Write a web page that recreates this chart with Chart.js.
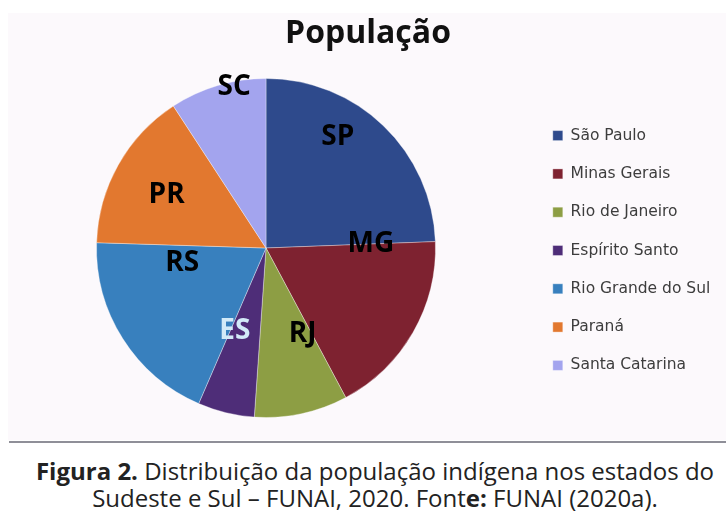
<!DOCTYPE html>
<html>
<head>
<meta charset="utf-8">
<script src="https://cdn.jsdelivr.net/npm/chart.js@4"></script>
<style>
  body { margin: 0; background: #ffffff; width: 726px; height: 511px; overflow: hidden; position: relative; font-family: "Open Sans", sans-serif; }
  #panel { position: absolute; left: 8px; top: 13px; width: 718px; height: 427px; background: #fcf9fc; }
  #wrap { position: absolute; left: -1px; top: 13px; width: 727px; height: 427px; }
  #rule { position: absolute; left: 9px; top: 441px; width: 717px; height: 2px; background: #8f8f98; }
  #caption { position: absolute; left: 0; top: 457px; width: 750px; text-align: center; font-size: 24px; line-height: 27px; color: #222; white-space: nowrap; }
</style>
</head>
<body>
<div id="panel"></div>
<div id="wrap"><canvas id="popChart"></canvas></div>
<div id="rule"></div>
<div id="caption"><b>Figura 2.</b> Distribuição da população indígena nos estados do<br>Sudeste e Sul – FUNAI, 2020. Font<b>e:</b> FUNAI (2020a).</div>
<script>
// população indígena (%) por estado
const states = ["São Paulo", "Minas Gerais", "Rio de Janeiro", "Espírito Santo", "Rio Grande do Sul", "Paraná", "Santa Catarina"];
const abbrevs = ["SP", "MG", "RJ", "ES", "RS", "PR", "SC"];
const shares = [24.4, 17.8, 8.9, 5.4, 19.0, 15.3, 9.2];

const sliceColors = ["#2e4a8c", "#7e2230", "#8d9e44", "#4e2d78", "#3880be", "#e2782f", "#a3a4ee"];
const abbrevColors = ["#000", "#000", "#000", "#d2eaf8", "#000", "#000", "#000"];
// label placement: angle shift from slice middle (deg) and fraction of radius
const labelShift = [-11.5, -33, -11.5, 7.4, 23.5, -0.4, 5.5];
const labelRadius = [0.79, 0.62, 0.54, 0.51, 0.5, 0.67, 0.98];

// fixed legend box, wider so the pie sits left, then nudged into place
const legendBox = {
  id: 'legendBox',
  beforeInit(chart) {
    const fit = chart.legend.fit;
    chart.legend.fit = function () {
      fit.bind(chart.legend)();
      this.width = 204;
    };
  },
  afterLayout(chart) {
    chart.legend.left += 8;
    chart.legend.right += 8;
    chart.legend.top += 35;
    chart.legend.bottom += 35;
  }
};

const sliceLabels = {
  id: 'sliceLabels',
  afterDatasetsDraw(chart) {
    const ctx = chart.ctx;
    const meta = chart.getDatasetMeta(0);
    ctx.save();
    ctx.font = "bold 28px 'Open Sans'";
    ctx.textAlign = 'center';
    ctx.textBaseline = 'middle';
    meta.data.forEach((arc, i) => {
      const p = arc.getProps(['x', 'y', 'startAngle', 'endAngle', 'outerRadius'], true);
      const a = (p.startAngle + p.endAngle) / 2 + labelShift[i] * Math.PI / 180;
      const r = p.outerRadius * labelRadius[i];
      ctx.fillStyle = abbrevColors[i];
      ctx.fillText(abbrevs[i], p.x + Math.cos(a) * r, p.y + Math.sin(a) * r + 2);
    });
    ctx.restore();
  }
};

new Chart(document.getElementById('popChart').getContext('2d'), {
  type: 'pie',
  data: {
    labels: states,
    datasets: [{
      data: shares,
      backgroundColor: sliceColors,
      borderColor: 'rgba(255,255,255,0.35)',
      borderWidth: 1
    }]
  },
  options: {
    responsive: true,
    maintainAspectRatio: false,
    animation: false,
    layout: { padding: { top: 0, bottom: 22, left: 11, right: 0 } },
    plugins: {
      title: {
        display: true,
        text: 'População',
        color: '#111',
        font: { family: 'Open Sans', size: 32, weight: 'bold' },
        padding: { top: 2, bottom: 24.6 }
      },
      legend: {
        position: 'right',
        labels: {
          boxWidth: 10,
          boxHeight: 10,
          padding: 22.8,
          color: '#3d3d3d',
          font: { family: 'DejaVu Sans', size: 15.5 }
        }
      },
      tooltip: { enabled: false }
    }
  },
  plugins: [legendBox, sliceLabels]
});
</script>
</body>
</html>
